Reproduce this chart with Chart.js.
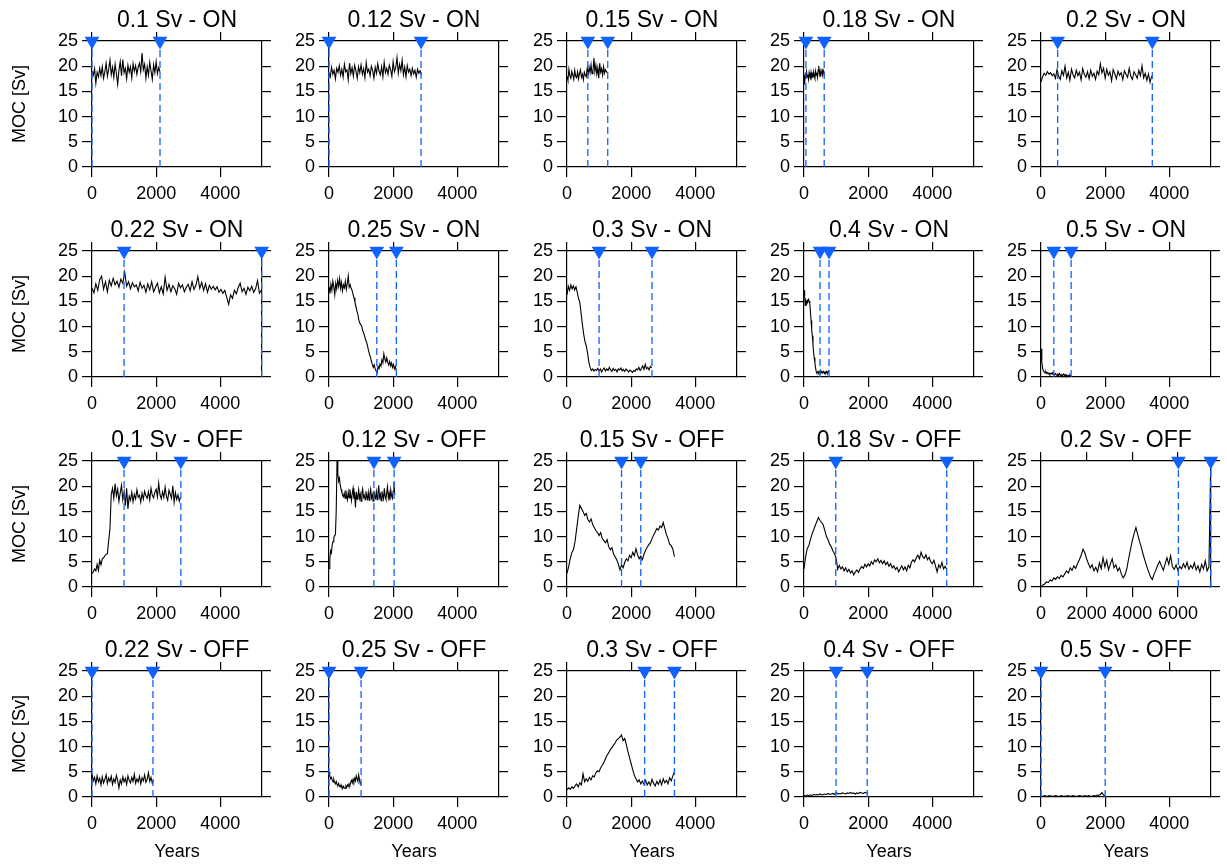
<!DOCTYPE html>
<html>
<head>
<meta charset="utf-8">
<script src="https://cdn.jsdelivr.net/npm/chart.js@4.4.1/dist/chart.umd.min.js"></script>
<style>
  body { margin: 0; background: #fff; }
  #wrap { position: relative; width: 1227px; height: 866px; background: #fff; }
  #wrap canvas { position: absolute; }
</style>
</head>
<body>
<div id="wrap"></div>
<script>
// tick labels
const yTicks = [0, 5, 10, 15, 20, 25]
const xTicksStd = [0, 2000, 4000]
const xTicksLong = [0, 2000, 4000, 6000]

// MOC series (Sv), one value every `step` years
const on010 = [19.0, 18.2, 19.5, 16.6, 18.8, 17.9, 19.6, 18.1, 19.9, 17.6,
  18.9, 20.6, 18.0, 19.4, 21.2, 18.3, 19.8, 17.8, 20.4, 18.6,
  16.4, 19.2, 20.9, 18.1, 21.3, 18.7, 19.6, 17.5, 20.2, 18.8,
  19.9, 17.7, 20.5, 19.0, 20.1, 18.4, 19.8, 20.6, 18.9, 22.6,
  19.3, 20.4, 17.6, 19.9, 18.2, 20.8, 19.1, 17.4, 20.3, 18.7,
  20.9, 18.5, 19.7, 18.9]
const on012 = [18.6, 17.9, 19.8, 18.4, 19.2, 17.5, 19.6, 18.8, 20.1, 18.2,
  19.4, 17.8, 20.4, 18.9, 19.3, 17.3, 20.6, 18.5, 19.7, 18.0,
  20.2, 19.1, 17.6, 19.9, 18.7, 20.3, 18.4, 19.5, 17.7, 20.7,
  18.8, 19.4, 18.1, 20.0, 19.2, 17.6, 19.8, 18.6, 20.5, 19.0,
  18.3, 19.9, 17.9, 20.8, 18.7, 19.6, 18.4, 20.2, 19.3, 18.0,
  20.9, 18.9, 19.7, 21.7, 18.6, 20.4, 19.1, 21.2, 18.3, 19.8,
  17.9, 20.1, 18.8, 19.4, 18.1, 19.6, 18.5, 19.2, 17.8, 19.4,
  18.6, 19.1, 18.3]
const on015 = [18.0, 17.2, 19.4, 18.1, 17.6, 19.0, 18.3, 17.4, 19.2, 18.0,
  17.7, 18.9, 17.5, 18.6, 19.3, 17.8, 18.4, 17.3, 18.8, 18.2,
  17.9, 19.6, 18.4, 19.8, 18.7, 20.3, 18.5, 19.1, 21.6, 18.9,
  20.2, 18.4, 19.7, 17.6, 20.6, 18.8, 19.5, 18.2, 19.9, 18.6,
  19.3, 18.9, 18.7]
const on018 = [18.2, 16.4, 18.6, 17.5, 18.9, 17.8, 18.3, 17.4, 18.7, 18.0,
  17.6, 18.8, 17.9, 18.4, 17.7, 18.9, 18.1, 17.6, 19.0, 18.2,
  18.7, 17.8, 19.3, 20.1, 18.4, 19.0, 17.9, 18.8, 19.5, 18.3,
  19.1, 18.6]
const on020 = [16.9, 17.9, 18.6, 18.2, 18.9, 18.4, 18.7, 18.1, 18.5, 17.6,
  19.3, 18.0, 17.4, 19.1, 18.2, 20.0, 17.6, 18.8, 17.2, 19.4,
  18.3, 17.7, 19.2, 18.1, 18.8, 17.3, 19.5, 18.4, 17.8, 18.9,
  17.5, 19.2, 18.0, 18.6, 17.4, 19.0, 18.3, 20.5, 18.7, 19.6,
  17.6, 19.4, 18.2, 18.9, 17.1, 19.3, 18.5, 17.5, 19.0, 18.2,
  18.7, 17.3, 19.1, 18.4, 17.8, 19.6, 18.0, 17.4, 18.9, 18.3,
  17.6, 19.2, 18.1, 20.1, 17.7, 18.6, 17.2, 18.5, 16.8, 18.1]
const on022 = [17.6, 16.7, 18.5, 17.2, 19.3, 20.0, 17.4, 18.9, 16.9, 19.2,
  18.1, 19.6, 18.3, 19.0, 17.8, 19.4, 18.6, 20.8, 18.0, 18.9,
  17.5, 18.7, 17.9, 18.3, 17.1, 18.8, 17.6, 18.2, 16.8, 18.5,
  17.3, 18.9, 16.9, 17.8, 18.6, 16.7, 17.9, 16.5, 19.8, 17.2,
  18.4, 16.9, 18.1, 17.5, 16.4, 18.6, 17.7, 18.3, 16.9, 17.8,
  18.4, 17.1, 18.9, 17.4, 18.2, 19.9, 17.6, 18.8, 17.2, 18.5,
  16.8, 18.2, 17.4, 18.0, 17.3, 17.9, 16.8, 17.4, 16.6, 17.2,
  15.8, 14.4, 16.3, 15.6, 17.2, 16.5, 17.8, 18.6, 16.9, 17.6,
  16.4, 17.8, 17.1, 18.0, 16.8, 17.5, 19.1, 16.6, 17.2]
const on025 = [17.8, 16.6, 18.4, 17.2, 19.0, 17.9, 16.3, 18.6, 17.5, 19.2,
  18.0, 19.5, 17.6, 18.8, 17.1, 18.3, 17.7, 19.0, 17.4, 18.6,
  20.1, 17.8, 18.3, 17.6, 17.2, 16.4, 15.7, 14.8, 14.0, 13.1,
  12.4, 11.3, 10.7, 10.4, 10.1, 9.2, 8.8, 8.1, 7.4, 6.9,
  6.2, 5.3, 4.6, 4.0, 3.2, 2.5, 1.9, 2.4, 1.6, 1.2,
  0.8, 2.1, 1.7, 2.6, 2.2, 3.4, 2.8, 4.6, 3.6, 3.0,
  3.8, 2.9, 2.4, 3.1, 2.2, 2.8, 1.9, 2.5, 1.6, 2.1,
  1.2]
const on030 = [16.3, 18.0, 17.2, 18.3, 17.5, 18.1, 17.3, 17.9, 16.8, 15.6,
  14.8, 12.6, 10.4, 8.5, 7.0, 6.2, 4.8, 3.0, 1.9, 1.3,
  1.6, 1.2, 1.5, 1.3, 1.7, 1.2, 1.6, 1.0, 1.5, 1.8,
  1.2, 1.6, 1.3, 1.9, 1.4, 1.1, 1.7, 1.3, 1.5, 1.0,
  1.6, 1.4, 1.8, 1.2, 1.5, 1.1, 1.6, 1.3, 1.0, 1.4,
  1.2, 0.9, 1.3, 1.1, 1.6, 1.4, 1.9, 1.3, 1.7, 2.2,
  1.5, 2.5, 1.6, 1.9, 1.4, 2.1, 1.8]
const on040 = [17.2, 16.0, 14.2, 15.0, 14.6, 15.2, 15.0, 15.4, 15.1, 14.6,
  13.0, 11.2, 9.4, 8.2, 6.4, 4.8, 3.8, 2.8, 1.8, 1.1,
  0.8, 0.9, 1.1, 0.8, 1.0, 0.7, 1.2, 0.9, 1.0, 0.8,
  1.1, 0.9, 0.7, 1.0, 0.8, 1.1, 0.9, 0.8, 1.2, 0.9]
const on050 = [5.6, 3.0, 1.8, 1.2, 1.0, 0.8, 1.1, 0.7, 0.9, 0.6,
  0.8, 0.5, 0.7, 0.6, 0.9, 0.5, 0.6, 0.4, 0.7, 0.5,
  0.3, 0.6, 0.4, 0.7, 0.3, 0.5, 0.2, 0.4, 0.6, 0.3,
  0.5, 0.2, 0.4, 0.1, 0.3, 0.2, 0.4, 0.1, 0.2]

const off010 = [2.7, 3.0, 3.6, 3.2, 4.5, 3.3, 5.3, 4.4, 5.6, 5.8,
  6.2, 6.5, 6.6, 9.2, 11.5, 18.4, 19.6, 17.6, 20.5, 18.1,
  19.4, 17.0, 18.7, 20.2, 17.3, 18.9, 16.2, 19.6, 15.5, 18.0,
  17.2, 18.8, 16.9, 18.4, 17.5, 19.3, 17.8, 18.2, 16.8, 18.6,
  17.4, 19.0, 18.1, 17.6, 18.9, 17.3, 19.6, 18.2, 17.7, 18.8,
  19.4, 17.9, 20.6, 18.3, 17.5, 18.9, 17.8, 19.8, 18.0, 17.2,
  19.2, 18.4, 17.6, 20.1, 16.8, 18.7, 17.4, 18.3, 17.0, 17.9]
const off012 = [3.7, 5.5, 7.2, 6.8, 8.4, 9.0, 9.8, 10.2, 10.4, 15.0,
  25.0, 22.5, 21.0, 21.6, 20.2, 19.4, 18.8, 18.2, 17.9, 18.6,
  17.6, 19.2, 18.0, 17.3, 18.8, 17.7, 19.4, 18.2, 17.1, 18.6,
  19.6, 17.5, 18.3, 15.8, 18.9, 17.4, 18.1, 19.3, 17.6, 18.4,
  17.0, 18.7, 19.5, 17.8, 18.2, 17.3, 19.0, 18.1, 17.5, 18.8,
  17.2, 18.5, 19.4, 17.7, 18.3, 17.0, 19.1, 18.0, 17.6, 18.9,
  17.3, 18.6, 20.2, 17.8, 18.4, 17.1, 19.0, 18.2, 17.5, 19.6,
  18.0, 17.4, 18.8, 19.9, 17.7, 18.6, 17.2, 19.3, 18.1, 17.6,
  19.0, 20.8, 18.3]
const off015 = [2.7, 4.0, 5.6, 6.8, 7.4, 9.0, 11.5, 14.0, 16.2, 15.6,
  15.0, 14.2, 14.6, 13.4, 12.9, 13.5, 12.4, 11.8, 11.2, 10.8,
  10.2, 10.8, 9.6, 9.2, 8.8, 9.4, 8.0, 7.4, 7.8, 6.6,
  6.0, 5.4, 4.6, 3.4, 4.4, 3.8, 4.9, 5.6, 5.2, 6.3,
  5.8, 6.9, 6.2, 7.6, 6.4, 5.6, 6.1, 5.4, 6.5, 7.3,
  7.9, 8.4, 8.8, 9.6, 10.3, 10.9, 11.6, 11.3, 12.1, 11.8,
  12.8, 11.6, 10.4, 9.6, 8.5, 8.2, 7.5, 6.0]
const off018 = [3.6, 6.0, 7.6, 8.2, 9.4, 10.5, 11.3, 12.2, 13.0, 13.8,
  13.2, 12.8, 12.3, 11.2, 10.0, 9.4, 8.5, 8.0, 7.2, 6.6,
  5.8, 3.5, 4.3, 3.6, 4.0, 3.2, 3.8, 3.0, 3.5, 2.8,
  3.2, 2.4, 3.0, 3.4, 2.9, 3.6, 4.1, 3.7, 4.5, 4.0,
  4.6, 4.2, 5.0, 4.5, 5.4, 5.0, 5.6, 4.8, 5.3, 4.6,
  5.2, 4.4, 4.9, 4.1, 4.6, 3.8, 4.2, 3.5, 3.9, 3.0,
  3.6, 4.2, 3.4, 4.0, 3.2, 4.3, 3.8, 4.9, 5.4, 5.0,
  5.8, 6.3, 5.6, 6.9, 6.0, 5.7, 6.4, 5.4, 5.9, 5.0,
  4.6, 5.3, 4.2, 3.0, 4.4, 3.8, 4.9, 3.6, 4.1, 3.5]
const off020 = [0.0, 0.4, 0.6, 1.0, 0.9, 1.4, 1.2, 1.8, 1.5, 2.0,
  1.7, 2.3, 2.0, 2.6, 3.2, 2.8, 3.8, 3.3, 4.2, 3.7,
  4.6, 5.4, 6.3, 7.5, 6.8, 5.6, 4.6, 3.8, 4.4, 3.2,
  3.9, 3.0, 4.8, 3.6, 5.8, 4.0, 5.3, 3.4, 4.6, 5.6,
  3.8, 4.4, 3.2, 3.8, 2.6, 1.8, 2.4, 3.6, 5.6, 7.4,
  9.2, 10.6, 11.8, 10.4, 9.0, 7.8, 6.4, 5.2, 4.0, 3.0,
  2.0, 1.5, 2.6, 3.4, 4.4, 5.1, 4.2, 3.3, 4.6, 5.8,
  4.5, 6.2, 4.0, 3.5, 4.4, 3.3, 4.1, 3.6, 4.6, 3.8,
  4.9, 3.5, 4.3, 3.7, 4.8, 3.4, 4.2, 3.0, 4.5, 3.6,
  5.2, 3.2, 4.0, 25.0]
const off022 = [4.6, 3.2, 3.9, 2.6, 4.2, 3.0, 3.7, 2.4, 4.0, 2.8,
  3.5, 4.4, 2.7, 3.8, 3.1, 4.1, 2.5, 3.6, 2.9, 4.3,
  3.3, 1.8, 3.4, 2.6, 4.0, 3.0, 3.7, 2.5, 4.2, 3.3,
  2.8, 3.9, 3.1, 4.5, 2.7, 3.6, 3.0, 4.1, 2.6, 3.8,
  3.2, 4.4, 2.9, 3.5, 4.8, 3.1, 3.9, 2.7, 3.3]
const off025 = [5.0, 4.2, 3.6, 3.9, 3.4, 3.0, 3.5, 2.9, 2.6, 3.1,
  2.5, 2.3, 2.7, 2.2, 2.0, 2.4, 1.9, 1.7, 2.1, 1.8,
  1.7, 2.2, 1.9, 2.4, 2.1, 2.6, 2.3, 2.9, 3.3, 2.8,
  3.5, 3.0, 3.7, 3.2, 4.2, 3.6, 3.1, 4.4, 3.4, 2.6,
  3.0]
const off030 = [1.4, 1.8, 1.5, 2.0, 1.7, 2.2, 2.6, 2.0, 2.8, 2.4,
  4.6, 3.0, 3.6, 3.1, 3.9, 3.4, 4.2, 4.0, 4.8, 5.2,
  5.0, 5.8, 6.3, 6.9, 7.6, 8.3, 8.8, 9.4, 9.8, 10.3,
  10.7, 11.3, 11.6, 11.9, 12.3, 11.2, 11.6, 10.4, 9.0, 7.8,
  6.6, 5.4, 4.3, 3.6, 3.0, 3.4, 2.6, 3.2, 2.5, 3.3,
  2.4, 3.0, 2.3, 3.5, 2.7, 2.2, 3.1, 2.5, 3.4, 2.4,
  3.6, 2.8, 3.3, 2.6, 3.8, 3.2, 4.2, 5.0]
const off040 = [0.3, 0.2, 0.4, 0.3, 0.4, 0.3, 0.5, 0.4, 0.5, 0.4,
  0.6, 0.4, 0.5, 0.6, 0.5, 0.7, 0.5, 0.6, 0.7, 0.5,
  0.9, 0.6, 0.7, 0.6, 0.8, 0.7, 0.6, 0.8, 0.7, 0.9,
  0.7, 0.8, 0.6, 0.8, 0.7, 0.9, 0.8, 0.7, 0.9, 0.8,
  0.8]
const off050 = [0.2, 0.1, 0.3, 0.2, 0.1, 0.3, 0.2, 0.2, 0.1, 0.3,
  0.2, 0.1, 0.2, 0.3, 0.1, 0.2, 0.2, 0.3, 0.1, 0.2,
  0.3, 0.2, 0.1, 0.2, 0.3, 0.2, 0.1, 0.3, 0.2, 0.2,
  0.3, 0.1, 0.2, 0.3, 0.2, 0.4, 0.3, 0.5, 0.9, 0.4,
  0.3]

// years of the two marked points in each run
const panels = [
  { title: '0.1 Sv - ON', values: on010, step: 40, marks: [0, 2120], xmax: 5300, xticks: xTicksStd },
  { title: '0.12 Sv - ON', values: on012, step: 40, marks: [0, 2870], xmax: 5300, xticks: xTicksStd },
  { title: '0.15 Sv - ON', values: on015, step: 30, marks: [650, 1270], xmax: 5300, xticks: xTicksStd },
  { title: '0.18 Sv - ON', values: on018, step: 20, marks: [60, 630], xmax: 5300, xticks: xTicksStd },
  { title: '0.2 Sv - ON', values: on020, step: 50, marks: [520, 3470], xmax: 5300, xticks: xTicksStd },
  { title: '0.22 Sv - ON', values: on022, step: 60, marks: [1000, 5290], xmax: 5300, xticks: xTicksStd },
  { title: '0.25 Sv - ON', values: on025, step: 30, marks: [1490, 2100], xmax: 5300, xticks: xTicksStd },
  { title: '0.3 Sv - ON', values: on030, step: 40, marks: [1000, 2650], xmax: 5300, xticks: xTicksStd },
  { title: '0.4 Sv - ON', values: on040, step: 20, marks: [500, 780], xmax: 5300, xticks: xTicksStd },
  { title: '0.5 Sv - ON', values: on050, step: 25, marks: [400, 940], xmax: 5300, xticks: xTicksStd },
  { title: '0.1 Sv - OFF', values: off010, step: 40, marks: [1000, 2770], xmax: 5300, xticks: xTicksStd },
  { title: '0.12 Sv - OFF', values: off012, step: 25, marks: [1400, 2030], xmax: 5300, xticks: xTicksStd },
  { title: '0.15 Sv - OFF', values: off015, step: 50, marks: [1700, 2300], xmax: 5300, xticks: xTicksStd },
  { title: '0.18 Sv - OFF', values: off018, step: 50, marks: [990, 4450], xmax: 5300, xticks: xTicksStd },
  { title: '0.2 Sv - OFF', values: off020, step: 80, marks: [6020, 7440], xmax: 7450, xticks: xTicksLong },
  { title: '0.22 Sv - OFF', values: off022, step: 40, marks: [0, 1900], xmax: 5300, xticks: xTicksStd },
  { title: '0.25 Sv - OFF', values: off025, step: 25, marks: [0, 1000], xmax: 5300, xticks: xTicksStd },
  { title: '0.3 Sv - OFF', values: off030, step: 50, marks: [2420, 3350], xmax: 5300, xticks: xTicksStd },
  { title: '0.4 Sv - OFF', values: off040, step: 50, marks: [1000, 1970], xmax: 5300, xticks: xTicksStd },
  { title: '0.5 Sv - OFF', values: off050, step: 50, marks: [0, 2000], xmax: 5300, xticks: xTicksStd }
]

const colLeft = [0, 237, 475, 712, 949]
const rowTop = [0, 210, 420, 630]
const BLUE = 'rgb(16, 98, 255)'
const FAMILY = "'Liberation Sans', Arial, Helvetica, sans-serif"

function fixTicks(list) {
    return function(scale) {
        scale.ticks = list.map(function(v) { return { value: v } })
    }
}

function drawPanel(p, k) {
    const row = Math.floor(k / 5)
    const col = k % 5
    const lastRow = row == 3

    const canvas = document.createElement('canvas')
    canvas.width = 271
    canvas.height = lastRow ? 233 : 207
    canvas.style.left = colLeft[col] + 'px'
    canvas.style.top = rowTop[row] + 'px'
    document.getElementById('wrap').appendChild(canvas)

    const datasets = []
    // triangles on the top edge
    datasets.push({
        type: 'scatter',
        data: p.marks.map(function(m) { return { x: m, y: 25 } }),
        pointStyle: 'triangle',
        rotation: 180,
        pointRadius: 8.5,
        pointHoverRadius: 8.5,
        backgroundColor: BLUE,
        borderWidth: 0,
        clip: false
    })
    // dashed vertical lines
    p.marks.forEach(function(m) {
        datasets.push({
            type: 'line',
            data: [{ x: m, y: 0 }, { x: m, y: 25 }],
            borderColor: BLUE,
            borderWidth: 1.3,
            borderDash: [7, 4],
            pointRadius: 0,
            clip: false
        })
    })
    // the MOC series
    datasets.push({
        type: 'line',
        data: p.values.map(function(v, i) { return { x: i * p.step, y: v } }),
        borderColor: '#000',
        borderWidth: 1.1,
        pointRadius: 0,
        tension: 0,
        clip: false
    })

    const gridOpts = { drawOnChartArea: false, drawTicks: true, tickLength: 10, color: '#000', lineWidth: 1.2 }
    const borderOpts = { display: true, color: '#000', width: 1.2 }
    const tickFont = { family: FAMILY, size: 18 }

    new Chart(canvas, {
        type: 'line',
        data: { datasets: datasets },
        options: {
            responsive: false,
            animation: false,
            events: [],
            layout: { padding: 0 },
            plugins: {
                legend: { display: false },
                tooltip: { enabled: false },
                title: {
                    display: true,
                    fullSize: false,
                    text: p.title,
                    color: '#000',
                    font: { family: FAMILY, size: 23, weight: 'normal' },
                    padding: { top: 7, bottom: 0 }
                }
            },
            scales: {
                x: {
                    type: 'linear', position: 'bottom', min: 0, max: p.xmax,
                    afterBuildTicks: fixTicks(p.xticks),
                    afterFit: function(s) { s.height = lastRow ? 66 : 40 },
                    grid: gridOpts, border: borderOpts,
                    ticks: { color: '#000', font: tickFont, padding: 6, maxRotation: 0, autoSkip: false,
                        callback: function(v) { return String(v) } },
                    title: { display: lastRow, text: 'Years', color: '#000', font: tickFont, padding: { top: 0, bottom: 0 } }
                },
                x2: {
                    type: 'linear', position: 'top', min: 0, max: p.xmax,
                    afterBuildTicks: fixTicks(p.xticks),
                    afterFit: function(s) { s.height = 6.4 },
                    grid: Object.assign({}, gridOpts, { tickLength: 9 }), border: borderOpts,
                    ticks: { display: false }
                },
                y: {
                    type: 'linear', position: 'left', min: 0, max: 25,
                    afterBuildTicks: fixTicks(yTicks),
                    afterFit: function(s) { s.width = 92 },
                    grid: gridOpts, border: borderOpts,
                    ticks: { color: '#000', font: tickFont, padding: 4,
                        callback: function(v) { return String(v) } },
                    title: { display: col == 0, text: 'MOC [Sv]', color: '#000', font: tickFont, padding: { top: 9, bottom: 0 } }
                },
                y2: {
                    type: 'linear', position: 'right', min: 0, max: 25,
                    afterBuildTicks: fixTicks(yTicks),
                    afterFit: function(s) { s.width = 9 },
                    grid: Object.assign({}, gridOpts, { tickLength: 9 }), border: borderOpts,
                    ticks: { display: false }
                }
            }
        }
    })
}

panels.forEach(drawPanel)
</script>
</body>
</html>
